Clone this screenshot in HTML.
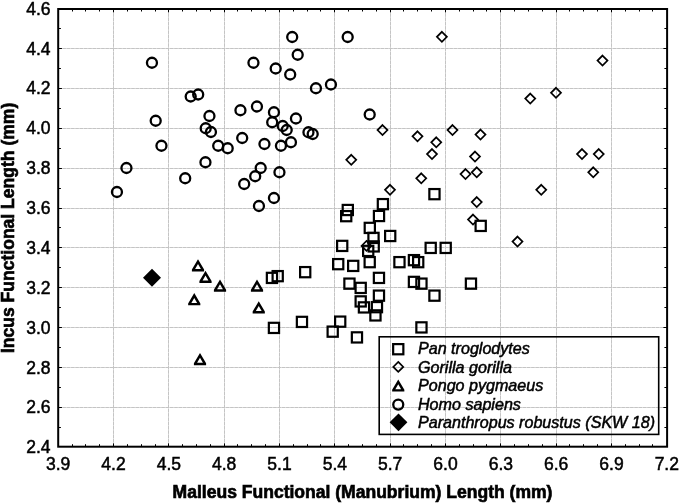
<!DOCTYPE html>
<html lang="en"><head><meta charset="utf-8"><title>Scatterplot</title>
<style>
html,body{margin:0;padding:0;background:#fff;}
svg{display:block;}
text{font-family:"Liberation Sans",Arial,sans-serif;fill:#000;}
.tk{font-size:17.5px;stroke:#000;stroke-width:0.5px;}
.ax{font-size:17.55px;font-weight:bold;stroke:#000;stroke-width:0.65px;}
.lg{font-size:16.1px;font-style:italic;stroke:#000;stroke-width:0.5px;}
.g0{stroke:#e0e0e0;stroke-width:1;fill:none;}
.g{stroke:#c4c4c4;stroke-width:1;stroke-dasharray:3.4 0.9;fill:none;}
.m{fill:none;stroke:#000;}
</style></head>
<body>
<svg width="680" height="503" viewBox="0 0 680 503">
<rect width="680" height="503" fill="#fff"/>
<g class="g0">
<line x1="113.5" y1="9" x2="113.5" y2="446.7"/>
<line x1="168.5" y1="9" x2="168.5" y2="446.7"/>
<line x1="224.5" y1="9" x2="224.5" y2="446.7"/>
<line x1="279.5" y1="9" x2="279.5" y2="446.7"/>
<line x1="334.5" y1="9" x2="334.5" y2="446.7"/>
<line x1="390.5" y1="9" x2="390.5" y2="446.7"/>
<line x1="445.5" y1="9" x2="445.5" y2="446.7"/>
<line x1="500.5" y1="9" x2="500.5" y2="446.7"/>
<line x1="556.5" y1="9" x2="556.5" y2="446.7"/>
<line x1="611.5" y1="9" x2="611.5" y2="446.7"/>
<line x1="58.2" y1="48.5" x2="667.1" y2="48.5"/>
<line x1="58.2" y1="88.5" x2="667.1" y2="88.5"/>
<line x1="58.2" y1="128.5" x2="667.1" y2="128.5"/>
<line x1="58.2" y1="168.5" x2="667.1" y2="168.5"/>
<line x1="58.2" y1="208.5" x2="667.1" y2="208.5"/>
<line x1="58.2" y1="247.5" x2="667.1" y2="247.5"/>
<line x1="58.2" y1="287.5" x2="667.1" y2="287.5"/>
<line x1="58.2" y1="327.5" x2="667.1" y2="327.5"/>
<line x1="58.2" y1="367.5" x2="667.1" y2="367.5"/>
<line x1="58.2" y1="407.5" x2="667.1" y2="407.5"/>
</g>
<g class="g">
<line x1="113.5" y1="9" x2="113.5" y2="446.7"/>
<line x1="168.5" y1="9" x2="168.5" y2="446.7"/>
<line x1="224.5" y1="9" x2="224.5" y2="446.7"/>
<line x1="279.5" y1="9" x2="279.5" y2="446.7"/>
<line x1="334.5" y1="9" x2="334.5" y2="446.7"/>
<line x1="390.5" y1="9" x2="390.5" y2="446.7"/>
<line x1="445.5" y1="9" x2="445.5" y2="446.7"/>
<line x1="500.5" y1="9" x2="500.5" y2="446.7"/>
<line x1="556.5" y1="9" x2="556.5" y2="446.7"/>
<line x1="611.5" y1="9" x2="611.5" y2="446.7"/>
<line x1="58.2" y1="48.5" x2="667.1" y2="48.5"/>
<line x1="58.2" y1="88.5" x2="667.1" y2="88.5"/>
<line x1="58.2" y1="128.5" x2="667.1" y2="128.5"/>
<line x1="58.2" y1="168.5" x2="667.1" y2="168.5"/>
<line x1="58.2" y1="208.5" x2="667.1" y2="208.5"/>
<line x1="58.2" y1="247.5" x2="667.1" y2="247.5"/>
<line x1="58.2" y1="287.5" x2="667.1" y2="287.5"/>
<line x1="58.2" y1="327.5" x2="667.1" y2="327.5"/>
<line x1="58.2" y1="367.5" x2="667.1" y2="367.5"/>
<line x1="58.2" y1="407.5" x2="667.1" y2="407.5"/>
</g>
<g stroke="#000" stroke-width="1" fill="none">
<path d="M72.5 9 v2.5 M72.5 446.7 v-2.5"/>
<path d="M85.5 9 v2.5 M85.5 446.7 v-2.5"/>
<path d="M99.5 9 v2.5 M99.5 446.7 v-2.5"/>
<path d="M113.5 9 v3.3 M113.5 446.7 v-3.3"/>
<path d="M127.5 9 v2.5 M127.5 446.7 v-2.5"/>
<path d="M141.5 9 v2.5 M141.5 446.7 v-2.5"/>
<path d="M155.5 9 v2.5 M155.5 446.7 v-2.5"/>
<path d="M168.5 9 v3.3 M168.5 446.7 v-3.3"/>
<path d="M182.5 9 v2.5 M182.5 446.7 v-2.5"/>
<path d="M196.5 9 v2.5 M196.5 446.7 v-2.5"/>
<path d="M210.5 9 v2.5 M210.5 446.7 v-2.5"/>
<path d="M224.5 9 v3.3 M224.5 446.7 v-3.3"/>
<path d="M237.5 9 v2.5 M237.5 446.7 v-2.5"/>
<path d="M251.5 9 v2.5 M251.5 446.7 v-2.5"/>
<path d="M265.5 9 v2.5 M265.5 446.7 v-2.5"/>
<path d="M279.5 9 v3.3 M279.5 446.7 v-3.3"/>
<path d="M293.5 9 v2.5 M293.5 446.7 v-2.5"/>
<path d="M307.5 9 v2.5 M307.5 446.7 v-2.5"/>
<path d="M320.5 9 v2.5 M320.5 446.7 v-2.5"/>
<path d="M334.5 9 v3.3 M334.5 446.7 v-3.3"/>
<path d="M348.5 9 v2.5 M348.5 446.7 v-2.5"/>
<path d="M362.5 9 v2.5 M362.5 446.7 v-2.5"/>
<path d="M376.5 9 v2.5 M376.5 446.7 v-2.5"/>
<path d="M390.5 9 v3.3 M390.5 446.7 v-3.3"/>
<path d="M403.5 9 v2.5 M403.5 446.7 v-2.5"/>
<path d="M417.5 9 v2.5 M417.5 446.7 v-2.5"/>
<path d="M431.5 9 v2.5 M431.5 446.7 v-2.5"/>
<path d="M445.5 9 v3.3 M445.5 446.7 v-3.3"/>
<path d="M459.5 9 v2.5 M459.5 446.7 v-2.5"/>
<path d="M473.5 9 v2.5 M473.5 446.7 v-2.5"/>
<path d="M486.5 9 v2.5 M486.5 446.7 v-2.5"/>
<path d="M500.5 9 v3.3 M500.5 446.7 v-3.3"/>
<path d="M514.5 9 v2.5 M514.5 446.7 v-2.5"/>
<path d="M528.5 9 v2.5 M528.5 446.7 v-2.5"/>
<path d="M542.5 9 v2.5 M542.5 446.7 v-2.5"/>
<path d="M556.5 9 v3.3 M556.5 446.7 v-3.3"/>
<path d="M569.5 9 v2.5 M569.5 446.7 v-2.5"/>
<path d="M583.5 9 v2.5 M583.5 446.7 v-2.5"/>
<path d="M597.5 9 v2.5 M597.5 446.7 v-2.5"/>
<path d="M611.5 9 v3.3 M611.5 446.7 v-3.3"/>
<path d="M625.5 9 v2.5 M625.5 446.7 v-2.5"/>
<path d="M639.5 9 v2.5 M639.5 446.7 v-2.5"/>
<path d="M652.5 9 v2.5 M652.5 446.7 v-2.5"/>
<path d="M58.2 28.5 h2.7 M667.1 28.5 h-2.7"/>
<path d="M58.2 48.5 h3.7 M667.1 48.5 h-3.7"/>
<path d="M58.2 68.5 h2.7 M667.1 68.5 h-2.7"/>
<path d="M58.2 88.5 h3.7 M667.1 88.5 h-3.7"/>
<path d="M58.2 108.5 h2.7 M667.1 108.5 h-2.7"/>
<path d="M58.2 128.5 h3.7 M667.1 128.5 h-3.7"/>
<path d="M58.2 148.5 h2.7 M667.1 148.5 h-2.7"/>
<path d="M58.2 168.5 h3.7 M667.1 168.5 h-3.7"/>
<path d="M58.2 188.5 h2.7 M667.1 188.5 h-2.7"/>
<path d="M58.2 208.5 h3.7 M667.1 208.5 h-3.7"/>
<path d="M58.2 227.5 h2.7 M667.1 227.5 h-2.7"/>
<path d="M58.2 247.5 h3.7 M667.1 247.5 h-3.7"/>
<path d="M58.2 267.5 h2.7 M667.1 267.5 h-2.7"/>
<path d="M58.2 287.5 h3.7 M667.1 287.5 h-3.7"/>
<path d="M58.2 307.5 h2.7 M667.1 307.5 h-2.7"/>
<path d="M58.2 327.5 h3.7 M667.1 327.5 h-3.7"/>
<path d="M58.2 347.5 h2.7 M667.1 347.5 h-2.7"/>
<path d="M58.2 367.5 h3.7 M667.1 367.5 h-3.7"/>
<path d="M58.2 387.5 h2.7 M667.1 387.5 h-2.7"/>
<path d="M58.2 407.5 h3.7 M667.1 407.5 h-3.7"/>
<path d="M58.2 427.5 h2.7 M667.1 427.5 h-2.7"/>
</g>
<g class="m" stroke-width="2.3">
<circle cx="151.95" cy="62.75" r="5"/>
<circle cx="253.45" cy="62.75" r="5"/>
<circle cx="190.7" cy="96.5" r="5"/>
<circle cx="198.2" cy="94.5" r="5"/>
<circle cx="155.7" cy="120.75" r="5"/>
<circle cx="209.45" cy="116" r="5"/>
<circle cx="240.45" cy="110.25" r="5"/>
<circle cx="256.95" cy="106.5" r="5"/>
<circle cx="205.7" cy="128.25" r="5"/>
<circle cx="210.95" cy="132" r="5"/>
<circle cx="242.2" cy="138" r="5"/>
<circle cx="161.45" cy="145.75" r="5"/>
<circle cx="218.2" cy="145.75" r="5"/>
<circle cx="227.7" cy="148.25" r="5"/>
<circle cx="264.45" cy="144" r="5"/>
<circle cx="272.2" cy="122.25" r="5"/>
<circle cx="292.2" cy="37" r="5"/>
<circle cx="347.7" cy="37" r="5"/>
<circle cx="297.7" cy="54.75" r="5"/>
<circle cx="275.7" cy="68.5" r="5"/>
<circle cx="290.2" cy="74.5" r="5"/>
<circle cx="330.95" cy="84.5" r="5"/>
<circle cx="315.95" cy="88.25" r="5"/>
<circle cx="273.95" cy="112.25" r="5"/>
<circle cx="295.95" cy="118.5" r="5"/>
<circle cx="282.7" cy="126" r="5"/>
<circle cx="286.7" cy="130" r="5"/>
<circle cx="308.45" cy="132.25" r="5"/>
<circle cx="312.7" cy="134" r="5"/>
<circle cx="369.7" cy="114.5" r="5"/>
<circle cx="290.95" cy="142.25" r="5"/>
<circle cx="280.95" cy="145.75" r="5"/>
<circle cx="205.45" cy="162.25" r="5"/>
<circle cx="126.45" cy="168" r="5"/>
<circle cx="185.2" cy="178.25" r="5"/>
<circle cx="116.95" cy="192" r="5"/>
<circle cx="260.7" cy="168" r="5"/>
<circle cx="255.2" cy="176.25" r="5"/>
<circle cx="244.2" cy="184" r="5"/>
<circle cx="258.95" cy="206" r="5"/>
<circle cx="279.45" cy="172.25" r="5"/>
<circle cx="273.95" cy="198" r="5"/>
</g>
<g class="m" stroke-width="2.2">
<rect x="377.8" y="199.05" width="10.2" height="10.2"/>
<rect x="342.7" y="204.9" width="10.2" height="10.2"/>
<rect x="341.1" y="211.05" width="10.2" height="10.2"/>
<rect x="373.9" y="210.9" width="10.2" height="10.2"/>
<rect x="429.35" y="189.05" width="10.2" height="10.2"/>
<rect x="364.7" y="222.8" width="10.2" height="10.2"/>
<rect x="385.1" y="230.9" width="10.2" height="10.2"/>
<rect x="368.4" y="232.8" width="10.2" height="10.2"/>
<rect x="337.1" y="240.8" width="10.2" height="10.2"/>
<rect x="368.6" y="241.3" width="10.2" height="10.2"/>
<rect x="363.1" y="245.8" width="10.2" height="10.2"/>
<rect x="425.6" y="242.8" width="10.2" height="10.2"/>
<rect x="440.6" y="242.8" width="10.2" height="10.2"/>
<rect x="333.1" y="259.05" width="10.2" height="10.2"/>
<rect x="348.1" y="260.8" width="10.2" height="10.2"/>
<rect x="364.6" y="257.05" width="10.2" height="10.2"/>
<rect x="394.35" y="257.05" width="10.2" height="10.2"/>
<rect x="408.85" y="255.05" width="10.2" height="10.2"/>
<rect x="413.1" y="257.05" width="10.2" height="10.2"/>
<rect x="373.85" y="272.8" width="10.2" height="10.2"/>
<rect x="344.35" y="278.55" width="10.2" height="10.2"/>
<rect x="355.6" y="282.8" width="10.2" height="10.2"/>
<rect x="408.85" y="276.8" width="10.2" height="10.2"/>
<rect x="416.35" y="278.55" width="10.2" height="10.2"/>
<rect x="465.85" y="278.55" width="10.2" height="10.2"/>
<rect x="373.85" y="290.55" width="10.2" height="10.2"/>
<rect x="429.35" y="290.55" width="10.2" height="10.2"/>
<rect x="355.6" y="296.3" width="10.2" height="10.2"/>
<rect x="358.85" y="302.3" width="10.2" height="10.2"/>
<rect x="371.85" y="302.05" width="10.2" height="10.2"/>
<rect x="370.35" y="310.3" width="10.2" height="10.2"/>
<rect x="475.6" y="220.8" width="10.2" height="10.2"/>
<rect x="266.85" y="272.8" width="10.2" height="10.2"/>
<rect x="272.6" y="271.05" width="10.2" height="10.2"/>
<rect x="268.85" y="322.8" width="10.2" height="10.2"/>
<rect x="300.1" y="267.05" width="10.2" height="10.2"/>
<rect x="296.85" y="316.8" width="10.2" height="10.2"/>
<rect x="335.1" y="316.55" width="10.2" height="10.2"/>
<rect x="327.6" y="326.55" width="10.2" height="10.2"/>
<rect x="351.85" y="332.3" width="10.2" height="10.2"/>
<rect x="416.35" y="322.3" width="10.2" height="10.2"/>
</g>
<g class="m" stroke-width="1.7">
<path d="M441.9 31.8 L446.9 36.8 L441.9 41.8 L436.9 36.8Z"/>
<path d="M530.25 93.55 L535.25 98.55 L530.25 103.55 L525.25 98.55Z"/>
<path d="M556 87.8 L561 92.8 L556 97.8 L551 92.8Z"/>
<path d="M602.5 55.55 L607.5 60.55 L602.5 65.55 L597.5 60.55Z"/>
<path d="M382.5 125.05 L387.5 130.05 L382.5 135.05 L377.5 130.05Z"/>
<path d="M417.5 131.3 L422.5 136.3 L417.5 141.3 L412.5 136.3Z"/>
<path d="M452.5 125.05 L457.5 130.05 L452.5 135.05 L447.5 130.05Z"/>
<path d="M480.5 129.55 L485.5 134.55 L480.5 139.55 L475.5 134.55Z"/>
<path d="M436.25 137.3 L441.25 142.3 L436.25 147.3 L431.25 142.3Z"/>
<path d="M432 149.05 L437 154.05 L432 159.05 L427 154.05Z"/>
<path d="M475 151.55 L480 156.55 L475 161.55 L470 156.55Z"/>
<path d="M465.5 169.05 L470.5 174.05 L465.5 179.05 L460.5 174.05Z"/>
<path d="M476.75 167.3 L481.75 172.3 L476.75 177.3 L471.75 172.3Z"/>
<path d="M421.25 173.3 L426.25 178.3 L421.25 183.3 L416.25 178.3Z"/>
<path d="M541.25 184.8 L546.25 189.8 L541.25 194.8 L536.25 189.8Z"/>
<path d="M476.75 197.05 L481.75 202.05 L476.75 207.05 L471.75 202.05Z"/>
<path d="M473 214.55 L478 219.55 L473 224.55 L468 219.55Z"/>
<path d="M517.5 236.55 L522.5 241.55 L517.5 246.55 L512.5 241.55Z"/>
<path d="M582 149.05 L587 154.05 L582 159.05 L577 154.05Z"/>
<path d="M598.75 149.05 L603.75 154.05 L598.75 159.05 L593.75 154.05Z"/>
<path d="M593.25 167.3 L598.25 172.3 L593.25 177.3 L588.25 172.3Z"/>
<path d="M351.25 154.8 L356.25 159.8 L351.25 164.8 L346.25 159.8Z"/>
<path d="M390 184.8 L395 189.8 L390 194.8 L385 189.8Z"/>
<path d="M366.5 240.9 L371.5 245.9 L366.5 250.9 L361.5 245.9Z"/>
</g>
<g fill="#000" fill-rule="evenodd">
<path d="M198 259.3 L204.1 269.6 L204.1 271.5 L191.9 271.5 L191.9 269.6Z M198 264.1 L200.9 269.1 L195.1 269.1Z"/>
<path d="M205.5 270.8 L211.6 281.1 L211.6 283 L199.4 283 L199.4 281.1Z M205.5 275.6 L208.4 280.6 L202.6 280.6Z"/>
<path d="M220 279.45 L226.1 289.75 L226.1 291.65 L213.9 291.65 L213.9 289.75Z M220 284.25 L222.9 289.25 L217.1 289.25Z"/>
<path d="M257 279.45 L263.1 289.75 L263.1 291.65 L250.9 291.65 L250.9 289.75Z M257 284.25 L259.9 289.25 L254.1 289.25Z"/>
<path d="M194.25 293.1 L200.35 303.4 L200.35 305.3 L188.15 305.3 L188.15 303.4Z M194.25 297.9 L197.15 302.9 L191.35 302.9Z"/>
<path d="M258.75 301.2 L264.85 311.5 L264.85 313.4 L252.65 313.4 L252.65 311.5Z M258.75 306 L261.65 311 L255.85 311Z"/>
<path d="M200 352.95 L206.1 363.25 L206.1 365.15 L193.9 365.15 L193.9 363.25Z M200 357.75 L202.9 362.75 L197.1 362.75Z"/>
</g>
<path d="M152 268.7 L161 277.7 L152 286.7 L143 277.7Z" fill="#000"/>
<rect x="58.2" y="9" width="608.9" height="437.7" fill="none" stroke="#000" stroke-width="2"/>
<text class="tk" x="58.17" y="470" text-anchor="middle">3.9</text>
<text class="tk" x="113.5" y="470" text-anchor="middle">4.2</text>
<text class="tk" x="168.83" y="470" text-anchor="middle">4.5</text>
<text class="tk" x="224.17" y="470" text-anchor="middle">4.8</text>
<text class="tk" x="279.5" y="470" text-anchor="middle">5.1</text>
<text class="tk" x="334.83" y="470" text-anchor="middle">5.4</text>
<text class="tk" x="390.16" y="470" text-anchor="middle">5.7</text>
<text class="tk" x="445.49" y="470" text-anchor="middle">6.0</text>
<text class="tk" x="500.83" y="470" text-anchor="middle">6.3</text>
<text class="tk" x="556.16" y="470" text-anchor="middle">6.6</text>
<text class="tk" x="611.49" y="470" text-anchor="middle">6.9</text>
<text class="tk" x="666.82" y="470" text-anchor="middle">7.2</text>
<text class="tk" x="50.6" y="14.62" text-anchor="end">4.6</text>
<text class="tk" x="50.6" y="54.5" text-anchor="end">4.4</text>
<text class="tk" x="50.6" y="94.38" text-anchor="end">4.2</text>
<text class="tk" x="50.6" y="134.26" text-anchor="end">4.0</text>
<text class="tk" x="50.6" y="174.14" text-anchor="end">3.8</text>
<text class="tk" x="50.6" y="214.02" text-anchor="end">3.6</text>
<text class="tk" x="50.6" y="253.9" text-anchor="end">3.4</text>
<text class="tk" x="50.6" y="293.78" text-anchor="end">3.2</text>
<text class="tk" x="50.6" y="333.66" text-anchor="end">3.0</text>
<text class="tk" x="50.6" y="373.54" text-anchor="end">2.8</text>
<text class="tk" x="50.6" y="413.42" text-anchor="end">2.6</text>
<text class="tk" x="50.6" y="453.3" text-anchor="end">2.4</text>
<text class="ax" x="362.5" y="497.5" text-anchor="middle">Malleus Functional (Manubrium) Length (mm)</text>
<text class="ax" transform="translate(14.2 227.9) rotate(-90)" text-anchor="middle">Incus Functional Length (mm)</text>
<rect x="379.2" y="336.8" width="279.5" height="97.6" fill="none" stroke="#000" stroke-width="1.6"/>
<rect class="m" stroke-width="2.2" x="393.15" y="344.1" width="10.2" height="10.2"/>
<path class="m" stroke-width="1.7" d="M398.25 361.9 L403.25 366.9 L398.25 371.9 L393.25 366.9Z"/>
<path fill="#000" fill-rule="evenodd" d="M398.25 379.4 L404.35 389.7 L404.35 391.6 L392.15 391.6 L392.15 389.7Z M398.25 384.2 L401.15 389.2 L395.35 389.2Z"/>
<circle class="m" stroke-width="2.3" cx="398.25" cy="404.6" r="5"/>
<path d="M398.5 413.4 L407.4 422.3 L398.5 431.2 L389.6 422.3Z" fill="#000"/>
<text class="lg" x="418" y="353.9">Pan troglodytes</text>
<text class="lg" x="418" y="372.5">Gorilla gorilla</text>
<text class="lg" x="418" y="391.1">Pongo pygmaeus</text>
<text class="lg" x="418" y="409.7">Homo sapiens</text>
<text class="lg" x="418" y="427.7">Paranthropus robustus (SKW 18)</text>
</svg>
</body></html>
